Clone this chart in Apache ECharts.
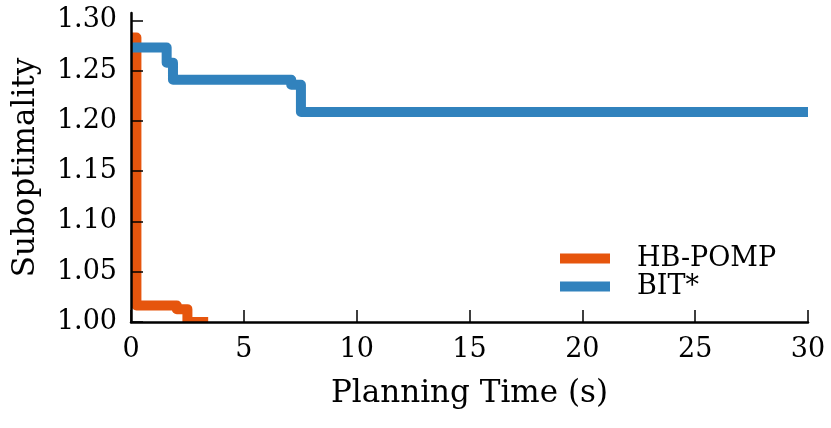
<!DOCTYPE html>
<html><head><meta charset="utf-8">
<script src="https://cdn.jsdelivr.net/npm/echarts@6/dist/echarts.min.js"></script>
<style>html,body{margin:0;padding:0;background:#fff}#c{width:831px;height:428px}</style>
</head><body><div id="c"></div>
<script>
const seriesNames = ['HB-POMP', 'BIT*'];
const hbTime = [0, 0.24, 2.03, 2.5, 3.42];
const hbValue = [1.283, 1.0165, 1.0128, 1.000, 1.000];
const bitTime = [0, 1.58, 1.86, 7.1, 7.53, 30];
const bitValue = [1.273, 1.258, 1.241, 1.236, 1.209, 1.209];
const xTicks = [0, 5, 10, 15, 20, 25, 30];
const yTicks = [1.00, 1.05, 1.10, 1.15, 1.20, 1.25, 1.30];

const FONT = 'DejaVu Serif';
const orange = '#e6550d';
const blue = '#3182bd';

const chart = echarts.init(document.getElementById('c'), null, {renderer: 'canvas'});
const zip = (a, b) => a.map((v, i) => [v, b[i]]);

chart.setOption({
  animation: false,
  backgroundColor: '#fff',
  grid: {left: 131, right: 23, top: 13, bottom: 106, outerBoundsMode: 'none', containLabel: false},
  legend: {
    orient: 'vertical', left: 560, top: 245, padding: 0,
    icon: 'rect', itemWidth: 50, itemHeight: 10, itemGap: 1,
    textStyle: {fontFamily: FONT, fontSize: 27, color: '#000', lineHeight: 24, padding: [0, 0, 0, 22]},
    data: seriesNames
  },
  xAxis: {
    type: 'value', min: xTicks[0], max: xTicks[xTicks.length - 1], interval: 5, z: 10,
    name: 'Planning Time (s)', nameLocation: 'middle', nameGap: 56,
    nameTextStyle: {fontFamily: FONT, fontSize: 31, color: '#000'},
    axisLine: {show: true, lineStyle: {color: '#000', width: 2.5}},
    axisTick: {show: true, inside: true, length: 12, lineStyle: {color: '#000', width: 1.5}, customValues: xTicks},
    axisLabel: {fontFamily: FONT, fontSize: 27, color: '#000', margin: 14, customValues: xTicks},
    splitLine: {show: false}
  },
  yAxis: {
    type: 'value', min: 1.0, max: 1.3074, z: 10,
    name: 'Suboptimality', nameLocation: 'middle', nameGap: 90,
    nameTextStyle: {fontFamily: FONT, fontSize: 31, color: '#000'},
    axisLine: {show: true, lineStyle: {color: '#000', width: 2.5}},
    axisTick: {show: true, inside: true, length: 12, lineStyle: {color: '#000', width: 1.5}, customValues: yTicks},
    axisLabel: {fontFamily: FONT, fontSize: 27, color: '#000', margin: 14, customValues: yTicks,
      formatter: v => v.toFixed(2)},
    splitLine: {show: false}
  },
  series: [
    {name: seriesNames[0], type: 'line', step: 'end', data: zip(hbTime, hbValue),
     showSymbol: false, symbol: 'none', color: orange, z: 2,
     lineStyle: {color: orange, width: 10, join: 'round', cap: 'butt'}},
    {name: seriesNames[1], type: 'line', step: 'end', data: zip(bitTime, bitValue),
     showSymbol: false, symbol: 'none', color: blue, z: 3,
     lineStyle: {color: blue, width: 10, join: 'round', cap: 'butt'}}
  ]
});

// white strip under the x-axis so lines are clipped exactly at the axis (as in the reference)
const p0 = chart.convertToPixel({gridIndex: 0}, [xTicks[0], yTicks[0]]);
const p1 = chart.convertToPixel({gridIndex: 0}, [xTicks[xTicks.length - 1], yTicks[0]]);
chart.setOption({
  graphic: [{type: 'rect', z: 5, silent: true,
    shape: {x: p0[0] - 8, y: p0[1] + 1, width: p1[0] - p0[0] + 16, height: 7},
    style: {fill: '#fff'}}]
});
</script></body></html>
